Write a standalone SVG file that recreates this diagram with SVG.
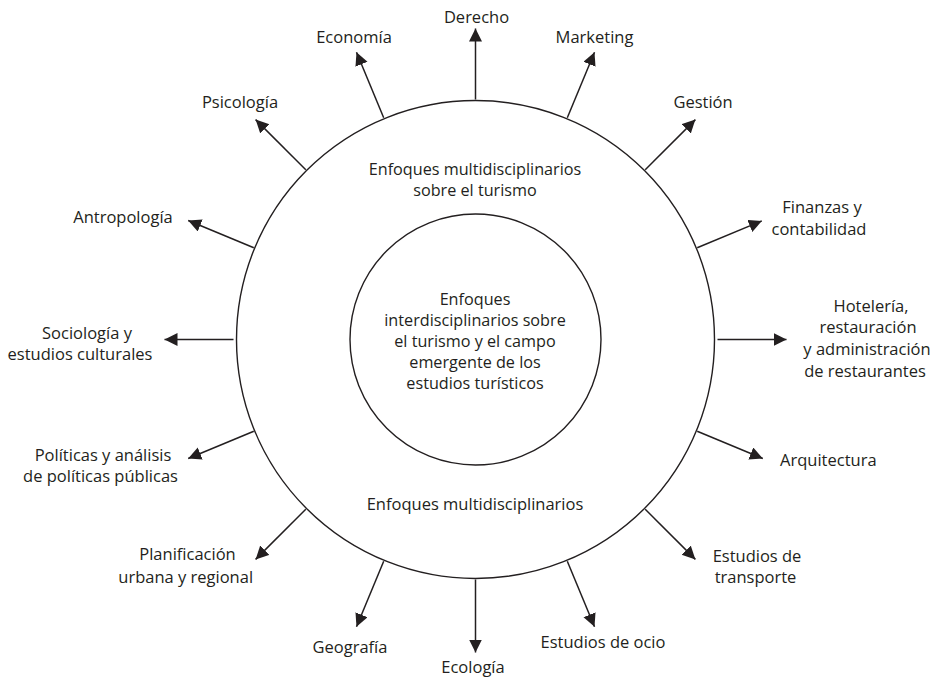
<svg xmlns="http://www.w3.org/2000/svg" width="935" height="677" viewBox="0 0 935 677">
  <style>
    text { font-family: "Open Sans", "Noto Sans", "Liberation Sans", sans-serif; font-size: 16.5px; fill: #231f20; text-anchor: middle; }
    .tight { font-size: 16.2px; }
    .circ { fill: none; stroke: #231f20; stroke-width: 1.4; }
    .arr { stroke: #231f20; stroke-width: 1.5; fill: none; marker-end: url(#ah); }
  </style>
  <defs>
    <marker id="ah" markerUnits="userSpaceOnUse" markerWidth="14" markerHeight="14" refX="13" refY="6.5" orient="auto" viewBox="0 0 14 14">
      <path d="M0,0 L13,6.5 L0,13 z" fill="#231f20"/>
    </marker>
  </defs>
  <rect width="935" height="677" fill="#ffffff"/>

  <g id="outer">
    <circle class="circ" cx="475.5" cy="339.5" r="239"/>
    <text class="tight" x="475" y="174.5">Enfoques multidisciplinarios</text>
    <text class="tight" x="475" y="195.5">sobre el turismo</text>
    <text x="475" y="510">Enfoques multidisciplinarios</text>
  </g>
  <g id="inner">
    <circle class="circ" cx="475.5" cy="339.5" r="125.5"/>
    <text class="tight" x="475" y="305">Enfoques</text>
    <text class="tight" x="475" y="326">interdisciplinarios sobre</text>
    <text class="tight" x="475" y="347">el turismo y el campo</text>
    <text class="tight" x="475" y="368">emergente de los</text>
    <text class="tight" x="475" y="389">estudios turísticos</text>
  </g>

  <g id="connectors">
    <line class="arr" x1="717.5" y1="339.5" x2="786.5" y2="339.5"/>
    <line class="arr" x1="697.2" y1="247.7" x2="761.8" y2="220.9"/>
    <line class="arr" x1="645.2" y1="169.8" x2="695.4" y2="119.6"/>
    <line class="arr" x1="567.3" y1="117.8" x2="594.5" y2="52.2"/>
    <line class="arr" x1="475.5" y1="99.5" x2="475.5" y2="28.5"/>
    <line class="arr" x1="383.7" y1="117.8" x2="356.5" y2="52.2"/>
    <line class="arr" x1="305.8" y1="169.8" x2="255.6" y2="119.6"/>
    <line class="arr" x1="253.8" y1="247.7" x2="188.2" y2="220.5"/>
    <line class="arr" x1="233.5" y1="339.5" x2="164.5" y2="339.5"/>
    <line class="arr" x1="253.8" y1="431.3" x2="188.2" y2="458.5"/>
    <line class="arr" x1="305.8" y1="509.2" x2="255.6" y2="559.4"/>
    <line class="arr" x1="383.7" y1="561.2" x2="356.5" y2="626.8"/>
    <line class="arr" x1="475.5" y1="579.5" x2="475.5" y2="652.5"/>
    <line class="arr" x1="567.3" y1="561.2" x2="594.5" y2="626.8"/>
    <line class="arr" x1="645.2" y1="509.2" x2="695.4" y2="559.4"/>
    <line class="arr" x1="697.2" y1="431.3" x2="762.8" y2="458.5"/>
  </g>

  <g id="hoteleria">
    <text x="871" y="312">Hotelería,</text>
    <text x="868" y="333">restauración</text>
    <text x="867" y="355">y administración</text>
    <text x="865" y="377">de restaurantes</text>
  </g>
  <g id="finanzas">
    <text x="822" y="213">Finanzas y</text>
    <text x="819" y="235">contabilidad</text>
  </g>
  <g id="gestion"><text x="703" y="108">Gestión</text></g>
  <g id="marketing"><text x="594.5" y="43">Marketing</text></g>
  <g id="derecho"><text x="476.5" y="23">Derecho</text></g>
  <g id="economia"><text x="354" y="43">Economía</text></g>
  <g id="psicologia"><text x="240" y="108">Psicología</text></g>
  <g id="antropologia"><text x="123" y="223">Antropología</text></g>
  <g id="sociologia">
    <text x="87" y="339">Sociología y</text>
    <text x="80" y="360">estudios culturales</text>
  </g>
  <g id="politicas">
    <text x="103" y="461">Políticas y análisis</text>
    <text x="100.5" y="482">de políticas públicas</text>
  </g>
  <g id="planificacion">
    <text x="187.5" y="560">Planificación</text>
    <text x="185.7" y="583">urbana y regional</text>
  </g>
  <g id="geografia"><text x="350" y="653">Geografía</text></g>
  <g id="ecologia"><text x="473" y="673">Ecología</text></g>
  <g id="ocio"><text x="603" y="648">Estudios de ocio</text></g>
  <g id="transporte">
    <text x="757" y="562">Estudios de</text>
    <text x="755.5" y="583">transporte</text>
  </g>
  <g id="arquitectura"><text x="828.3" y="466">Arquitectura</text></g>
</svg>
